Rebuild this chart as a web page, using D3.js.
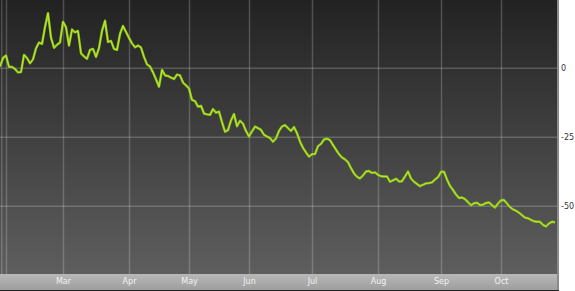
<!DOCTYPE html>
<html>
<head>
<meta charset="utf-8">
<script src="https://cdn.jsdelivr.net/npm/d3@7"></script>
<style>
  body { margin: 0; background: #fff; }
  svg { display: block; }
</style>
</head>
<body>
<svg width="575" height="291"></svg>
<script>
// daily values, one per trading day
const values = [
  0.4, 3.5, 4.4, 0.3, 0.3, -0.5, -1.7, -1.6, 4.6, 3.5,
  1.6, 3.0, 7.0, 9.1, 8.6, 14.7, 19.7, 10.9, 7.2, 8.3,
  9.1, 16.6, 14.7, 8.0, 13.8, 12.8, 13.3, 5.2, 4.1, 3.2,
  6.4, 6.8, 3.9, 7.1, 13.3, 17.0, 9.3, 9.7, 6.8, 6.4,
  12.2, 15.1, 12.9, 10.8, 8.8, 7.4, 8.0, 7.3, 3.9, 1.2,
  0.4, -1.7, -4.2, -6.9, -0.8, -2.8, -3.0, -3.6, -4.1, -2.5,
  -2.8, -5.4, -6.4, -7.5, -11.7, -12.1, -14.1, -13.8, -16.6, -16.9,
  -17.1, -15.0, -16.3, -15.9, -19.7, -23.2, -22.6, -19.1, -16.8, -21.2,
  -19.2, -20.3, -22.9, -24.9, -23.1, -21.3, -21.9, -22.5, -24.3, -24.9,
  -25.5, -26.8, -25.6, -22.9, -21.3, -20.8, -21.9, -22.9, -21.5, -23.7,
  -26.8, -29.0, -30.7, -32.2, -31.3, -31.3, -28.4, -27.6, -26.0, -25.7,
  -26.2, -28.0, -29.7, -31.3, -32.5, -33.2, -34.2, -36.4, -38.3, -39.5,
  -40.1, -39.0, -37.6, -37.4, -38.1, -37.9, -38.8, -39.3, -39.4, -39.4,
  -41.3, -40.8, -40.2, -41.2, -41.1, -39.4, -37.6, -40.1, -41.3, -42.1,
  -42.9, -42.4, -41.9, -41.8, -41.5, -40.5, -39.6, -37.7, -37.7, -40.5,
  -42.8, -44.3, -45.9, -47.2, -47.0, -47.6, -48.7, -49.8, -49.1, -48.9,
  -49.7, -49.6, -49.0, -48.8, -49.8, -50.6, -49.2, -48.0, -47.9, -49.2,
  -50.5, -51.3, -51.8, -52.5, -53.4, -54.3, -54.5, -55.1, -55.6, -55.8,
  -55.8, -56.9, -57.5, -56.4, -55.8, -56.0
];

// y axis ticks
const yTicks = [0, -25, -50];

// first trading day of each month (index into values) and its label
const monthTicks = [2, 21, 43, 63, 83, 104, 126, 147, 167];
const monthLabels = ['', 'Mar', 'Apr', 'May', 'Jun', 'Jul', 'Aug', 'Sep', 'Oct'];

const plotW = 558;
const plotH = 274;
const stripH = 16;

const svg = d3.select('svg');
const defs = svg.append('defs');

const bg = defs.append('linearGradient').attr('id', 'bg')
  .attr('x1', 0).attr('y1', 0).attr('x2', 0).attr('y2', 1);
bg.append('stop').attr('offset', '0%').attr('stop-color', '#222');
bg.append('stop').attr('offset', '100%').attr('stop-color', '#5e5e5e');

const strip = defs.append('linearGradient').attr('id', 'strip')
  .attr('x1', 0).attr('y1', 0).attr('x2', 0).attr('y2', 1);
strip.append('stop').attr('offset', '0%').attr('stop-color', '#b8b8b8');
strip.append('stop').attr('offset', '100%').attr('stop-color', '#9e9e9e');

svg.append('rect').attr('width', plotW).attr('height', plotH).attr('fill', 'url(#bg)');
svg.append('rect').attr('y', plotH).attr('width', plotW + 1).attr('height', stripH).attr('fill', 'url(#strip)');
svg.append('rect').attr('y', plotH + stripH).attr('width', plotW + 1).attr('height', 1).attr('fill', '#222');

const x = d3.scaleLinear().domain([0, values.length]).range([0, plotW]);
const y = d3.scaleLinear().domain([-74.7, 24.5]).range([plotH, 0]);

// gridlines
svg.append('g')
  .call(d3.axisLeft(y).tickValues(yTicks).tickSize(-plotW).tickFormat(''))
  .call(g => g.select('.domain').remove())
  .call(g => g.selectAll('line').attr('stroke', 'rgba(255,255,255,0.2)').attr('stroke-width', 1.5));

svg.append('g')
  .attr('transform', `translate(0, ${plotH})`)
  .call(d3.axisTop(x).tickValues(monthTicks).tickSize(plotH).tickFormat(''))
  .call(g => g.select('.domain').remove())
  .call(g => g.selectAll('line').attr('stroke', 'rgba(255,255,255,0.2)').attr('stroke-width', 1.5));

// frame edges
svg.append('rect').attr('x', 1).attr('width', 1.5).attr('height', plotH).attr('fill', 'rgba(255,255,255,0.18)');
svg.append('rect').attr('x', plotW - 1).attr('width', 2).attr('height', plotH + stripH).attr('fill', '#8a8a8a');

// month labels on the strip
svg.append('g')
  .attr('transform', `translate(0, ${plotH})`)
  .call(d3.axisBottom(x).tickValues(monthTicks).tickSize(0).tickPadding(4)
    .tickFormat((d, i) => monthLabels[i]))
  .call(g => g.select('.domain').remove())
  .call(g => g.selectAll('text')
    .attr('fill', '#f2f2f2')
    .attr('font-family', 'DejaVu Sans, Verdana, sans-serif')
    .attr('font-size', 8));

// value labels on the right (plain hyphen, as in the original)
svg.append('g')
  .attr('transform', `translate(${plotW + 2}, 0)`)
  .call(d3.axisRight(y).tickValues(yTicks).tickSize(0).tickPadding(1)
    .tickFormat(d => String(d)))
  .call(g => g.select('.domain').remove())
  .call(g => g.selectAll('text')
    .attr('fill', '#333')
    .attr('font-family', 'DejaVu Sans, Verdana, sans-serif')
    .attr('font-size', 8));

const line = d3.line()
  .x((d, i) => x(i))
  .y(d => y(d));

svg.append('path')
  .datum(values)
  .attr('fill', 'none')
  .attr('stroke', '#86c21a')
  .attr('stroke-width', 2.4)
  .attr('stroke-linejoin', 'round')
  .attr('d', line);

svg.append('path')
  .datum(values)
  .attr('fill', 'none')
  .attr('stroke', '#c8ea2c')
  .attr('stroke-width', 0.9)
  .attr('stroke-linejoin', 'round')
  .attr('d', line);
</script>
</body>
</html>
